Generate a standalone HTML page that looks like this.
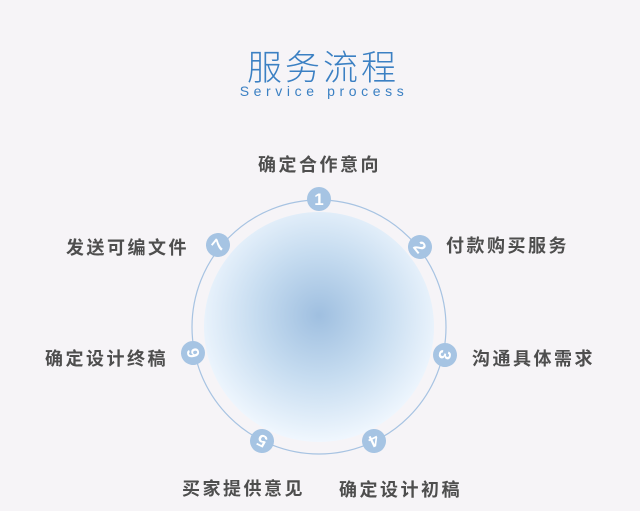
<!DOCTYPE html>
<html><head><meta charset="utf-8"><style>
body{margin:0;width:640px;height:511px;background:#f6f4f7;position:relative;overflow:hidden;font-family:"Liberation Sans","Noto Sans CJK SC",sans-serif}
.t{position:absolute;left:0;width:640px;text-align:center}
.l{position:absolute;font-size:18px;font-weight:bold;color:#4e4e4e;white-space:nowrap;letter-spacing:2.5px}
</style></head><body>
<div class="t" style="top:40px;font-size:35px;color:#3b80c3;font-weight:300;letter-spacing:3px;padding-left:3px">服务流程</div>
<div class="t" style="top:83px;font-size:14px;color:#3b80c3;letter-spacing:4.6px;padding-left:4px">Service process</div>
<svg width="640" height="511" style="position:absolute;left:0;top:0">
<defs><radialGradient id="g" cx="50%" cy="45%" r="55%">
<stop offset="0" stop-color="#9fbfe0"/><stop offset="0.5" stop-color="#c6dcf0"/><stop offset="1" stop-color="#f0f7fe"/></radialGradient></defs>
<circle cx="319" cy="327" r="115" fill="url(#g)"/>
<circle cx="319" cy="327" r="127" fill="none" stroke="#a7c3e2" stroke-width="1.2"/>
<g font-family="Liberation Sans" font-weight="bold" font-size="17" fill="#fff" text-anchor="middle">
<g transform="translate(319,199)"><circle r="12" fill="#a6c4e3"/><text y="6">1</text></g>
<g transform="translate(420,247) rotate(51)"><circle r="12" fill="#a6c4e3"/><text y="6">2</text></g>
<g transform="translate(445,355) rotate(103)"><circle r="12" fill="#a6c4e3"/><text y="6">3</text></g>
<g transform="translate(374,441) rotate(154)"><circle r="12" fill="#a6c4e3"/><text y="6">4</text></g>
<g transform="translate(262,441) rotate(206)"><circle r="12" fill="#a6c4e3"/><text y="6">5</text></g>
<g transform="translate(193,353) rotate(257)"><circle r="12" fill="#a6c4e3"/><text y="6">6</text></g>
<g transform="translate(218,245) rotate(309)"><circle r="12" fill="#a6c4e3"/><text y="6">7</text></g>
</g></svg>
<div class="l" style="left:258px;top:151px">确定合作意向</div>
<div class="l" style="left:446px;top:232px">付款购买服务</div>
<div class="l" style="left:472px;top:345px">沟通具体需求</div>
<div class="l" style="left:339px;top:476px">确定设计初稿</div>
<div class="l" style="left:182px;top:475px">买家提供意见</div>
<div class="l" style="left:45px;top:345px">确定设计终稿</div>
<div class="l" style="left:66px;top:234px">发送可编文件</div>
</body></html>
